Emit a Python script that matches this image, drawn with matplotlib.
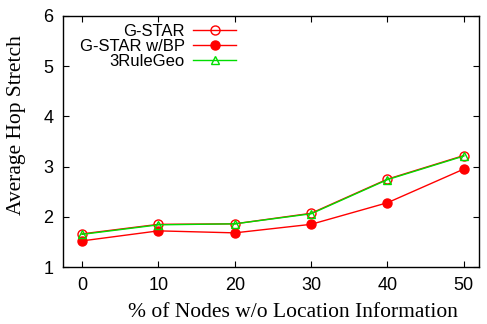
import numpy as np
import matplotlib
matplotlib.use("Agg")
from matplotlib import pyplot as plt

x = [0, 10, 20, 30, 40, 50]
gstar = [1.66, 1.85, 1.86, 2.07, 2.75, 3.22]
gstar_bp = [1.52, 1.72, 1.68, 1.85, 2.28, 2.95]
rulegeo = [1.65, 1.84, 1.86, 2.06, 2.74, 3.21]

plt.rcParams['font.family'] = ['Liberation Sans', 'DejaVu Sans']
fig = plt.figure(figsize=(4.87, 3.24), dpi=100, facecolor="w")
ax = fig.add_axes([63/487, 1-267/324, (479-63)/487, (267-16)/324])

ax.plot(x, gstar, "-", color="red", lw=1, marker="o", mfc="none", mec="red", ms=6.5, label="G-STAR")
ax.plot(x, gstar_bp, "-", color="red", lw=1, marker="o", mfc="red", mec="red", ms=6.5, label="G-STAR w/BP")
ax.plot(x, rulegeo, "-", color="#00dd00", lw=1, marker="^", mfc="none", mec="#00dd00", ms=6, label="3RuleGeo")

ax.set_xlim(-2.5, 52)
ax.set_ylim(1, 6)
ax.set_xticks(x)
ax.set_yticks([1, 2, 3, 4, 5, 6])
ax.tick_params(direction="in", top=True, right=True, length=4, labelsize=13, pad=7)
for s in ax.spines.values():
    s.set_linewidth(1)

ax.set_xlabel("% of Nodes w/o Location Information", family="Liberation Serif", fontsize=15.5)
ax.set_ylabel("Average Hop Stretch", family="Liberation Serif", fontsize=15.5)
ax.xaxis.set_label_coords(0.553, -0.142)
ax.yaxis.set_label_coords(-0.088, 0.566)

leg = ax.legend(loc="upper left", bbox_to_anchor=(0.008, 1.02), frameon=False, fontsize=12,
                markerfirst=False, handlelength=2.6, handletextpad=0.5, labelspacing=0.0,
                borderpad=0.3)
for t in leg.get_texts():
    t.set_ha("right")
leg._legend_box.align = "right"

fig.savefig("out.png", dpi=100)
